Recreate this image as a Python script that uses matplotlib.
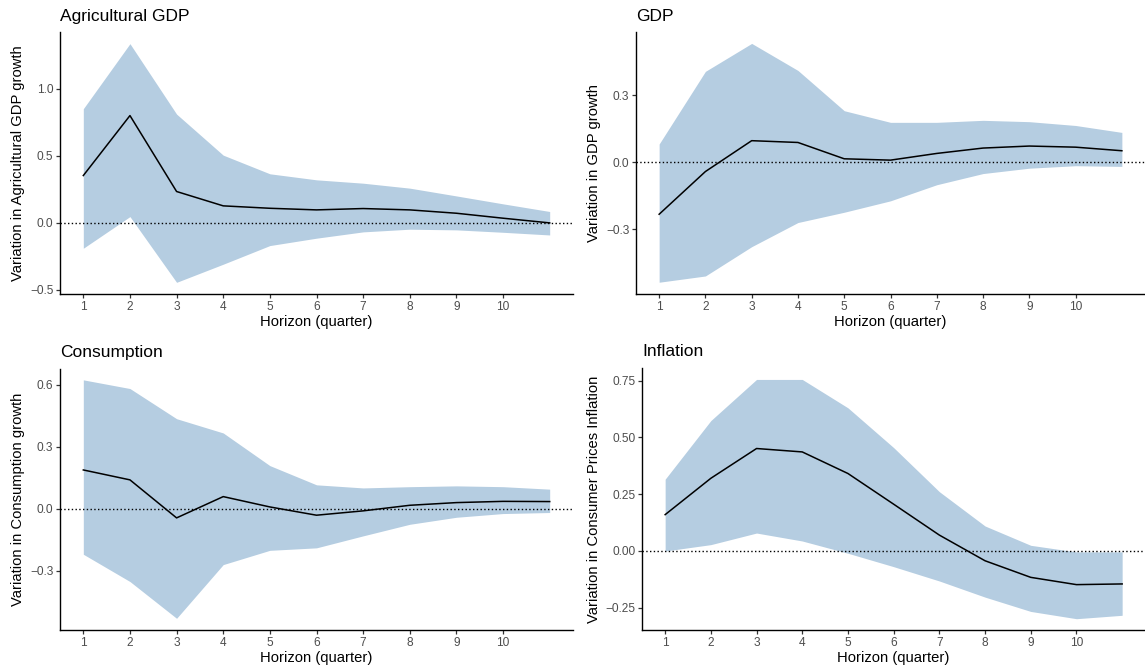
import matplotlib
matplotlib.use("Agg")
import matplotlib.pyplot as plt
import numpy as np

plt.rcParams['font.family'] = ['Liberation Sans', 'DejaVu Sans']

horizon = [1, 2, 3, 4, 5, 6, 7, 8, 9, 10, 11]
tick_positions = [1, 2, 3, 4, 5, 6, 7, 8, 9, 10]

# Agricultural GDP
agr_mid = [0.353, 0.800, 0.234, 0.127, 0.109, 0.097, 0.107, 0.097, 0.072, 0.035, 0.000]
agr_up = [0.851, 1.336, 0.811, 0.505, 0.366, 0.321, 0.296, 0.259, 0.201, 0.142, 0.085]
agr_lo = [-0.189, 0.047, -0.443, -0.308, -0.169, -0.114, -0.067, -0.047, -0.052, -0.070, -0.090]

# GDP
gdp_mid = [-0.233, -0.042, 0.096, 0.088, 0.015, 0.009, 0.039, 0.063, 0.072, 0.067, 0.051]
gdp_up = [0.081, 0.406, 0.531, 0.410, 0.230, 0.178, 0.178, 0.187, 0.181, 0.164, 0.133]
gdp_lo = [-0.537, -0.509, -0.378, -0.270, -0.224, -0.173, -0.101, -0.051, -0.027, -0.016, -0.019]

# Consumption
con_mid = [0.187, 0.139, -0.045, 0.058, 0.008, -0.032, -0.011, 0.016, 0.029, 0.035, 0.034]
con_up = [0.623, 0.581, 0.435, 0.366, 0.208, 0.115, 0.100, 0.106, 0.110, 0.106, 0.094]
con_lo = [-0.221, -0.353, -0.531, -0.271, -0.202, -0.190, -0.132, -0.076, -0.042, -0.024, -0.019]

# Inflation
inf_mid = [0.160, 0.320, 0.451, 0.436, 0.341, 0.206, 0.070, -0.043, -0.116, -0.148, -0.145]
inf_up = [0.316, 0.574, 0.755, 0.755, 0.630, 0.455, 0.261, 0.110, 0.025, -0.004, -0.004]
inf_lo = [0.000, 0.028, 0.079, 0.044, -0.010, -0.069, -0.132, -0.203, -0.266, -0.298, -0.283]

titles = ["Agricultural GDP", "GDP", "Consumption", "Inflation"]
ylabels = ["Variation in Agricultural GDP growth", "Variation in GDP growth",
           "Variation in Consumption growth", "Variation in Consumer Prices Inflation"]
xlabel = "Horizon (quarter)"

yticks = [[-0.5, 0.0, 0.5, 1.0], [-0.3, 0.0, 0.3], [-0.3, 0.0, 0.3, 0.6], [-0.25, 0.0, 0.25, 0.5, 0.75]]
yfmt = ["{:.1f}", "{:.1f}", "{:.1f}", "{:.2f}"]

W, H = 1145, 669
fig = plt.figure(figsize=(W / 100, H / 100), dpi=100)

# pixel boxes: left, right, top, bottom
boxes = [(60, 573, 32, 294), (636, 1145, 32, 294), (60, 573, 368.7, 630.3), (642.3, 1145, 368.3, 630.3)]
xlim = (0.5, 11.5)
ylims = [(-0.53, 1.423), (-0.5896, 0.582), (-0.589, 0.677), (-0.349, 0.804)]
title_base = [20.7, 20.7, 357, 356]
xlab_y = [322, 322, 658, 658]
ylab_x = [18.5, 594.4, 18.5, 594.4]

data = [(agr_mid, agr_up, agr_lo), (gdp_mid, gdp_up, gdp_lo), (con_mid, con_up, con_lo), (inf_mid, inf_up, inf_lo)]
band_color = '#b5cde1'

for i in range(4):
    l, r, t, b = boxes[i]
    ax = fig.add_axes([l / W, 1 - b / H, (r - l) / W, (b - t) / H])
    mid, up, lo = data[i]
    ax.fill_between(horizon, lo, up, color=band_color, linewidth=0, zorder=1)
    ax.axhline(0, color='black', linestyle=(0, (1, 1.7)), linewidth=1.0, zorder=2)
    ax.plot(horizon, mid, color='black', linewidth=1.1, zorder=3)
    ax.set_xlim(*xlim)
    ax.set_ylim(*ylims[i])
    ax.set_xticks(tick_positions)
    ax.set_xticklabels([str(v) for v in tick_positions])
    ax.set_yticks(yticks[i])
    ax.set_yticklabels([yfmt[i].format(v).replace('-', '\u2212') for v in yticks[i]])
    for s in ['top', 'right']:
        ax.spines[s].set_visible(False)
    for s in ['left', 'bottom']:
        ax.spines[s].set_linewidth(1.0)
        ax.spines[s].set_color('black')
    ax.tick_params(axis='both', length=3.0, width=0.9, color='#333333', labelcolor='#4d4d4d',
                   labelsize=8.6, pad=1.8)
    ax.set_facecolor('white')
    fig.text(l / W, 1 - title_base[i] / H, titles[i], fontsize=12.5,
             ha='left', va='baseline', color='black')
    fig.text((l + r) / 2 / W, 1 - xlab_y[i] / H, xlabel, fontsize=10.6,
             ha='center', va='center', color='black')
    fig.text(ylab_x[i] / W, 1 - (t + b) / 2 / H, ylabels[i], fontsize=10.6,
             ha='center', va='center', rotation=90, color='black')

fig.savefig("out.png", dpi=100, facecolor='white')
